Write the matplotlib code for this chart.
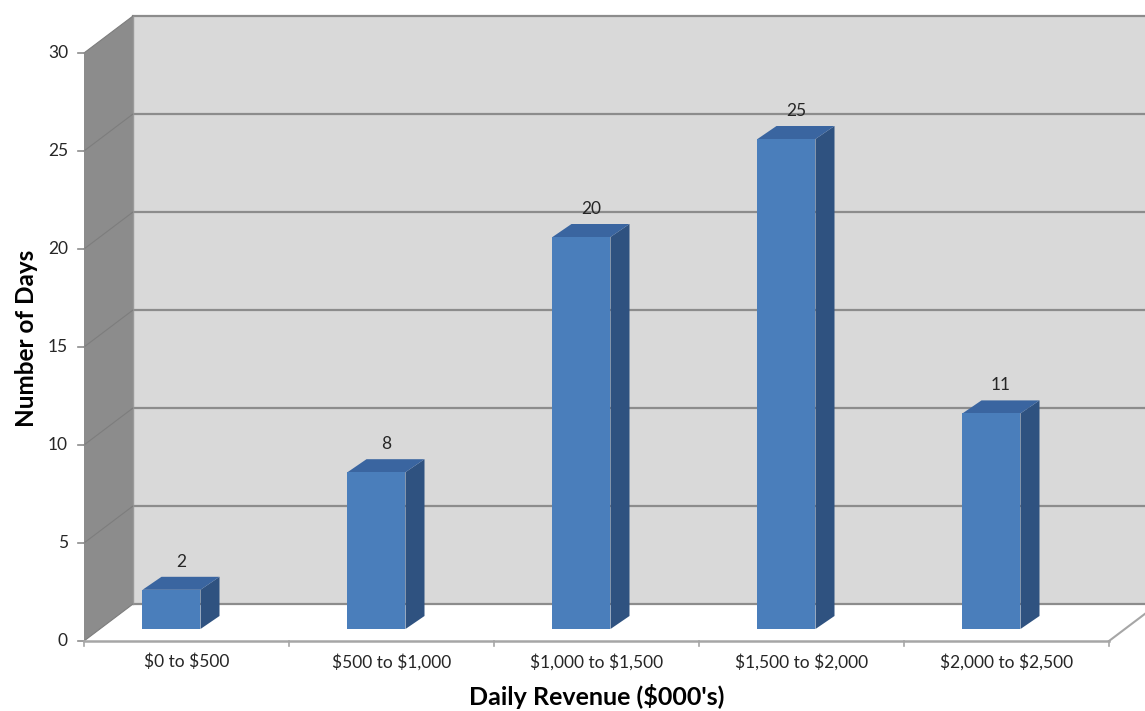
import matplotlib.pyplot as plt
from matplotlib.patches import Polygon, Rectangle

categories = ['$0 to $500', '$500 to $1,000', '$1,000 to $1,500',
              '$1,500 to $2,000', '$2,000 to $2,500']
days = [2, 8, 20, 25, 11]
y_ticks = [0, 5, 10, 15, 20, 25, 30]

plt.rcParams['font.family'] = ['Lato', 'DejaVu Sans']

W, H = 1145, 711
cat_px = 205.0   # pixels per category
unit_px = 19.6   # pixels per day
x0_px, y0_px = 84, 641

fig = plt.figure(figsize=(W / 100, H / 100), dpi=100)
ax = fig.add_axes([0, 0, 1, 1])
ax.set_xlim(-x0_px / cat_px, (W - x0_px) / cat_px)
ax.set_ylim((y0_px - H) / unit_px, y0_px / unit_px)
ax.axis('off')

n = len(categories)
ymax = y_ticks[-1]
wdx, wdy = 49 / cat_px, 37 / unit_px   # wall depth
far = n + 1

grid_c = '#8c8c8c'
text_c = '#262626'

# back wall
ax.add_patch(Polygon([(wdx, wdy), (far, wdy), (far, ymax + wdy), (wdx, ymax + wdy)],
                     closed=True, fc='#d9d9d9', ec='none', zorder=1))
# floor
ax.add_patch(Polygon([(0, 0), (n, 0), (n + wdx, wdy), (wdx, wdy)],
                     closed=True, fc='white', ec='none', zorder=2))
ax.plot([n, n + wdx], [0, wdy], color='#a6a6a6', lw=1.5, zorder=3)
# left wall
ax.add_patch(Polygon([(0, 0), (wdx, wdy), (wdx, ymax + wdy), (0, ymax)],
                     closed=True, fc='#8c8c8c', ec='none', zorder=2))
ax.plot([wdx, wdx], [wdy, ymax + wdy], color='#9a9a9a', lw=1, zorder=3)

# gridlines
for t in y_ticks:
    ax.plot([wdx, far], [t + wdy, t + wdy], color=grid_c, lw=1.6, zorder=2.5)
    ax.plot([0, wdx], [t, t + wdy], color='#7d7d7d', lw=0.8, zorder=3)
    ax.plot([-6 / cat_px, 0], [t, t], color='#8c8c8c', lw=1.2, zorder=3)
    ax.text(-16 / cat_px, t, str(t), ha='right', va='center', fontsize=12.5,
            color=text_c)

# front x axis
ax.plot([0, n], [0, 0], color='#a6a6a6', lw=1.8, zorder=3)
for k in range(n + 1):
    ax.plot([k, k], [0, -5 / unit_px], color='#a6a6a6', lw=1.2, zorder=3)
for k, lab in enumerate(categories):
    ax.text(k + 0.5, -21 / unit_px, lab, ha='center', va='center', fontsize=12.5,
            color=text_c, parse_math=False)

# bars
bw = 58 / cat_px
bdx, bdy = 19 / cat_px, 13 / unit_px
base = 12 / unit_px
for k, v in enumerate(days):
    x0 = k + 0.5 - 44 / cat_px
    top = base + v
    ax.add_patch(Polygon([(x0 + bw, base), (x0 + bw + bdx, base + bdy),
                          (x0 + bw + bdx, top + bdy), (x0 + bw, top)],
                         closed=True, fc='#2f5280', ec='none', zorder=4))
    ax.add_patch(Polygon([(x0, top), (x0 + bw, top), (x0 + bw + bdx, top + bdy),
                          (x0 + bdx, top + bdy)],
                         closed=True, fc='#3a65a0', ec='none', zorder=4))
    ax.add_patch(Rectangle((x0, base), bw, v, fc='#4a7ebb', ec='none', zorder=4))
    ax.text(x0 + (bw + bdx) / 2, top + bdy + 15 / unit_px, str(v), ha='center',
            va='center', fontsize=12.5, color=text_c, zorder=5)

# axis titles
ax.text(-57 / cat_px, 15 + wdy / 2 - 10 / unit_px, 'Number of Days', rotation=90,
        ha='center', va='center', fontsize=17.5, fontweight='bold', color='black')
ax.text(n / 2, -68 / unit_px, "Daily Revenue ($000's)", ha='center', va='bottom',
        fontsize=18, fontweight='bold', color='black', parse_math=False)

fig.savefig('out.png', dpi=100)
